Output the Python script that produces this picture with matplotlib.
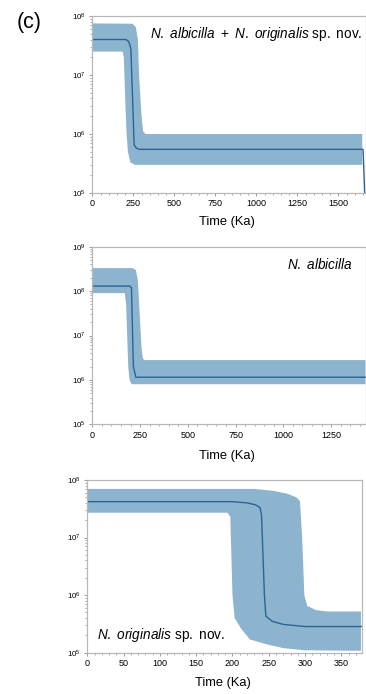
import numpy as np
import matplotlib
matplotlib.use("Agg")
import matplotlib.pyplot as plt
from matplotlib.ticker import LogLocator, FixedLocator, AutoMinorLocator, NullFormatter

plt.rcParams['font.family'] = ['Liberation Sans', 'DejaVu Sans']
plt.rcParams['mathtext.fontset'] = 'custom'
plt.rcParams['mathtext.rm'] = 'Liberation Sans'
plt.rcParams['mathtext.it'] = 'Liberation Sans:italic'

FILL = '#8db4cf'
LINE = '#2a6394'
SPINE = '#b8b8b8'

# panel 1: N. albicilla + N. originalis sp. nov.
t1_med = [0, 205, 222, 235, 255, 270, 290, 1650, 1664]
n1_med = [4.0e7, 4.0e7, 3.7e7, 2.8e7, 6.5e5, 5.7e5, 5.5e5, 5.5e5, 5e4]
t1_up = [0, 245, 265, 278, 285, 300, 310, 325, 1645]
n1_up = [7.5e7, 7.4e7, 6.5e7, 4e7, 1e7, 2e6, 1.1e6, 1.0e6, 1.0e6]
t1_lo = [0, 185, 192, 202, 209, 217, 232, 260, 1645]
n1_lo = [2.5e7, 2.5e7, 2e7, 3e6, 1e6, 5e5, 3.3e5, 3e5, 3e5]

# panel 2: N. albicilla
t2_med = [0, 195, 205, 215, 228, 1430]
n2_med = [1.3e8, 1.3e8, 1.2e8, 2e6, 1.15e6, 1.15e6]
t2_up = [0, 210, 228, 238, 248, 258, 265, 275, 1430]
n2_up = [3.3e8, 3.3e8, 3e8, 1.8e8, 3e7, 5e6, 3e6, 2.8e6, 2.8e6]
t2_lo = [0, 170, 177, 188, 195, 205, 1430]
n2_lo = [9e7, 9e7, 5e7, 2e6, 1e6, 8e5, 8e5]

# panel 3: N. originalis sp. nov.
t3_med = [0, 200, 220, 232, 238, 240, 244, 246, 255, 270, 300, 378]
n3_med = [4.2e7, 4.2e7, 4.0e7, 3.7e7, 3.3e7, 2.5e7, 1e6, 4.3e5, 3.5e5, 3.1e5, 2.85e5, 2.85e5]
t3_up = [0, 230, 255, 275, 288, 293, 296, 299, 303, 315, 330, 377]
n3_up = [7e7, 7e7, 6.5e7, 5.8e7, 5e7, 4.3e7, 1e7, 1e6, 6.5e5, 5.5e5, 5.2e5, 5.2e5]
t3_lo = [0, 193, 197, 200, 203, 212, 224, 247, 270, 300, 377]
n3_lo = [2.7e7, 2.7e7, 2.3e7, 1e6, 4e5, 2.6e5, 1.7e5, 1.4e5, 1.2e5, 1.1e5, 1.08e5]

panels = [
    dict(rect=[0.2522, 0.7219, 0.7465, 0.2550], xlim=(0, 1665), xticks=[0, 250, 500, 750, 1000, 1250, 1500],
         ylim=(1e5, 1e8), med=(t1_med, n1_med), up=(t1_up, n1_up), lo=(t1_lo, n1_lo),
         label=[("N. albicilla", 'italic'), (" + ", 'normal'), ("N. originalis", 'italic'), (" sp. nov.", 'normal')],
         lpos=(0.99, 0.90), ha='right', xl_y=222),
    dict(rect=[0.2522, 0.3886, 0.7465, 0.2559], xlim=(0, 1430), xticks=[0, 250, 500, 750, 1000, 1250],
         ylim=(1e5, 1e9), med=(t2_med, n2_med), up=(t2_up, n2_up), lo=(t2_lo, n2_lo),
         label=[("N. albicilla", 'italic')], lpos=(0.955, 0.90), ha='right', xl_y=456),
    dict(rect=[0.2385, 0.0595, 0.7497, 0.2489], xlim=(0, 378), xticks=[0, 50, 100, 150, 200, 250, 300, 350],
         ylim=(1e5, 1e8), med=(t3_med, n3_med), up=(t3_up, n3_up), lo=(t3_lo, n3_lo),
         label=[("N. originalis", 'italic'), (" sp. nov.", 'normal')], lpos=(0.035, 0.10), ha='left', xl_y=683),
]


def mixed_label(ax, parts, x, y, ha):
    # whole label in one mathtext string so spaces survive
    s = ""
    for txt, st in parts:
        cmd = "\\mathit" if st == 'italic' else "\\mathrm"
        s += cmd + "{" + txt.replace(" ", "\\ ") + "}"
    ax.text(x, y, "$" + s + "$", transform=ax.transAxes, ha=ha, va='center', fontsize=9.8)


fig = plt.figure(figsize=(3.66, 6.94), dpi=100)

for p in panels:
    ax = fig.add_axes(p['rect'])
    tu, nu = p['up']
    tl, nl = p['lo']
    ax.fill(np.concatenate([tu, tl[::-1]]), np.concatenate([nu, nl[::-1]]),
            color=FILL, lw=0)
    ax.plot(*p['med'], color=LINE, lw=1.0)
    ax.set_yscale('log')
    ax.set_xlim(*p['xlim'])
    ax.set_ylim(*p['ylim'])
    ax.set_xticks(p['xticks'])
    ax.xaxis.set_minor_locator(AutoMinorLocator(5))
    lo_exp = int(np.log10(p['ylim'][0]))
    hi_exp = int(np.log10(p['ylim'][1]))
    ax.yaxis.set_major_locator(FixedLocator([10.0 ** e for e in range(lo_exp, hi_exp + 1)]))
    ax.yaxis.set_minor_locator(LogLocator(base=10, subs=np.arange(2, 10)))
    ax.yaxis.set_minor_formatter(NullFormatter())
    ax.set_yticklabels(["$10^{%d}$" % e for e in range(lo_exp, hi_exp + 1)])
    for s in ax.spines.values():
        s.set_color(SPINE)
        s.set_linewidth(0.9)
    ax.tick_params(which='major', length=2.5, width=0.6, color='#888888', labelsize=6.5, pad=2)
    ax.tick_params(which='minor', length=1.5, width=0.5, color='#888888')
    ax.tick_params(axis='y', labelsize=5.8)
    mixed_label(ax, p['label'], p['lpos'][0], p['lpos'][1], p['ha'])
    fig.text(p['rect'][0] + p['rect'][2] / 2 - 0.005, 1 - p['xl_y'] / 694, "Time (Ka)",
             ha='center', va='center', fontsize=9.3)

fig.text(0.045, 0.967, "(c)", ha='left', va='center', fontsize=15.5)

fig.savefig("out.png", dpi=100)
